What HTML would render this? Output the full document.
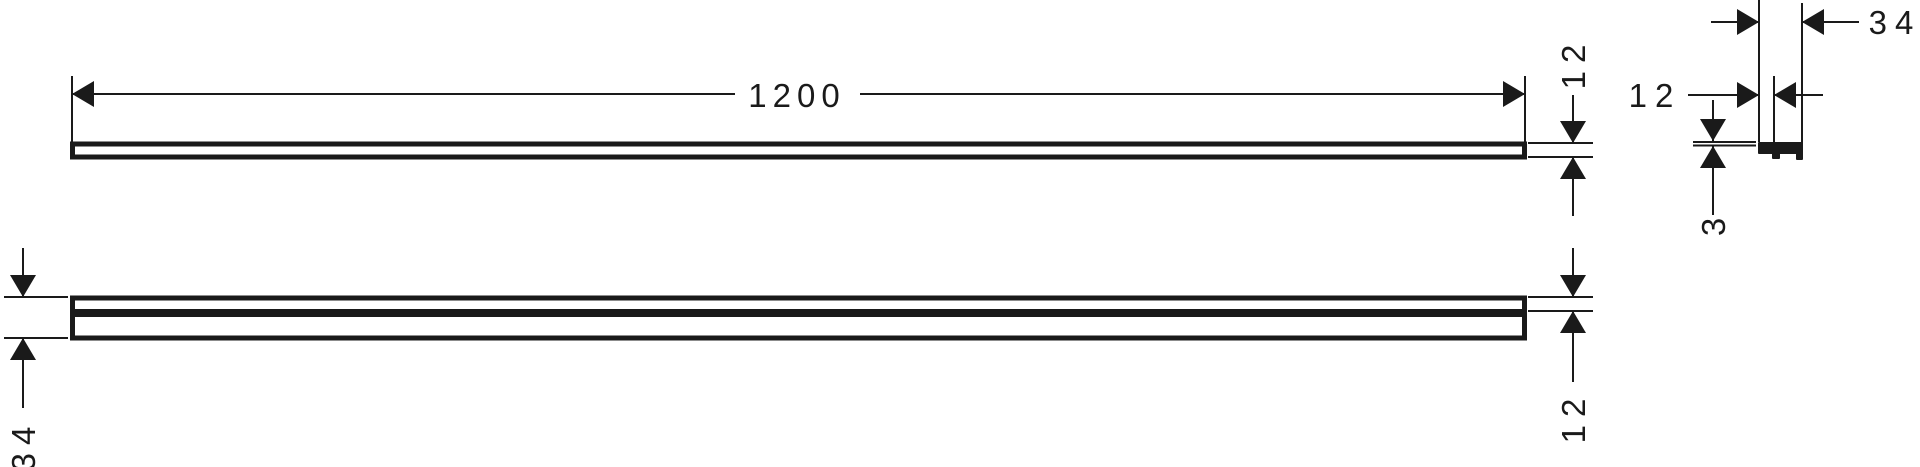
<!DOCTYPE html>
<html><head><style>html,body{margin:0;padding:0;background:#fff}svg{display:block}</style></head>
<body>
<svg width="1920" height="467" viewBox="0 0 1920 467" xmlns="http://www.w3.org/2000/svg" font-family="Liberation Sans, sans-serif" font-size="33" fill="#1a1a1a">
<g stroke="#1a1a1a" stroke-width="2" fill="none">
<rect x="72.5" y="144" width="1452" height="13" stroke-width="5"/>
<line x1="72" y1="76" x2="72" y2="144"/>
<line x1="1525" y1="76" x2="1525" y2="144"/>
<line x1="72" y1="94" x2="735" y2="94"/>
<line x1="860" y1="94" x2="1525" y2="94"/>
<rect x="72.5" y="298" width="1452" height="40" stroke-width="5"/>
<line x1="72" y1="313" x2="1525" y2="313" stroke-width="8"/>
<line x1="4" y1="297" x2="68" y2="297"/>
<line x1="4" y1="338" x2="68" y2="338"/>
<line x1="23" y1="248" x2="23" y2="297"/>
<line x1="23" y1="338" x2="23" y2="408"/>
<line x1="1528" y1="143" x2="1593" y2="143"/>
<line x1="1528" y1="157" x2="1593" y2="157"/>
<line x1="1573" y1="95" x2="1573" y2="143"/>
<line x1="1573" y1="157" x2="1573" y2="216"/>
<line x1="1528" y1="297" x2="1593" y2="297"/>
<line x1="1528" y1="311" x2="1593" y2="311"/>
<line x1="1573" y1="248" x2="1573" y2="297"/>
<line x1="1573" y1="311" x2="1573" y2="382"/>
<line x1="1759" y1="0" x2="1759" y2="142"/>
<line x1="1802" y1="3" x2="1802" y2="143"/>
<line x1="1774" y1="76" x2="1774" y2="150"/>
<line x1="1711" y1="22" x2="1759" y2="22"/>
<line x1="1802" y1="22" x2="1859" y2="22"/>
<line x1="1688" y1="95" x2="1759" y2="95"/>
<line x1="1774" y1="95" x2="1823" y2="95"/>
<line x1="1693" y1="142" x2="1756" y2="142"/>
<line x1="1693" y1="145.5" x2="1756" y2="145.5"/>
<line x1="1713" y1="100" x2="1713" y2="141"/>
<line x1="1713" y1="146" x2="1713" y2="215"/>
</g>
<path d="M1759 143 H1802 V159 H1797 V153 H1779 V158 H1773 V153 H1759 Z" fill="#1a1a1a" stroke="#1a1a1a" stroke-width="2" stroke-linejoin="round"/>
<g fill="#1a1a1a">
<polygon points="72,94 94,81 94,107"/>
<polygon points="1525,94 1503,81 1503,107"/>
<polygon points="23,297 10,275 36,275"/>
<polygon points="23,338 10,360 36,360"/>
<polygon points="1573,143 1560,121 1586,121"/>
<polygon points="1573,157 1560,179 1586,179"/>
<polygon points="1573,297 1560,275 1586,275"/>
<polygon points="1573,311 1560,333 1586,333"/>
<polygon points="1759,22 1737,9 1737,35"/>
<polygon points="1802,22 1824,9 1824,35"/>
<polygon points="1759,95 1737,82 1737,108"/>
<polygon points="1774,95 1796,82 1796,108"/>
<polygon points="1713,141 1700,119 1726,119"/>
<polygon points="1713,146 1700,168 1726,168"/>
</g>
<g>
<text x="797" y="107" text-anchor="middle" letter-spacing="6">1200</text>
<text x="1895" y="34" text-anchor="middle" letter-spacing="8">34</text>
<text x="1655" y="107" text-anchor="middle" letter-spacing="8">12</text>
<text transform="translate(1585,63) rotate(-90)" text-anchor="middle" letter-spacing="8">12</text>
<text transform="translate(1585,417) rotate(-90)" text-anchor="middle" letter-spacing="8">12</text>
<text transform="translate(1725,227) rotate(-90)" text-anchor="middle">3</text>
<text transform="translate(35,445) rotate(-90)" text-anchor="middle" letter-spacing="8">34</text>
</g>
</svg>
</body></html>
